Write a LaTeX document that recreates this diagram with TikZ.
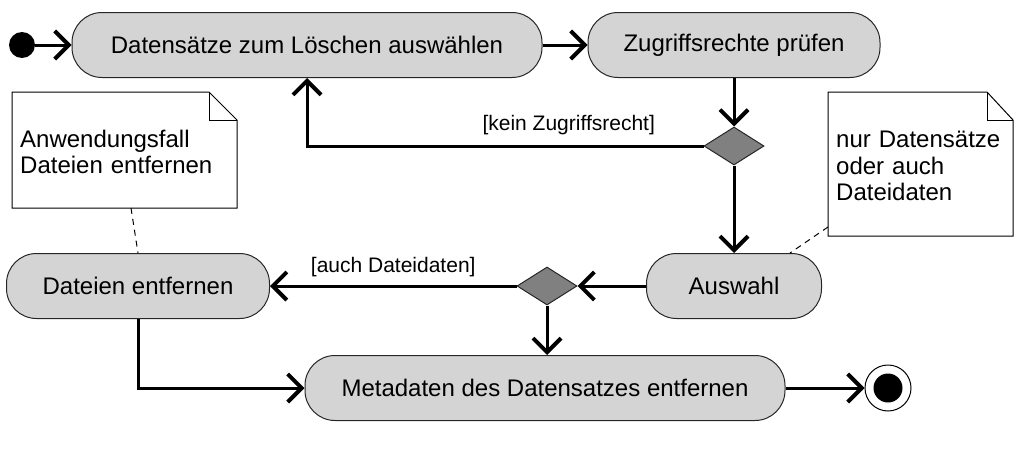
\documentclass[tikz,border=0pt]{standalone}
\usepackage{fontspec}
\setmainfont{Liberation Sans}
\usetikzlibrary{arrows.meta,shapes.geometric}

\begin{document}
\begin{tikzpicture}[x=1pt,y=-1pt,
    action/.style={draw=black!85, line width=1pt, fill=black!17, rounded corners=30pt,
      minimum height=65pt, inner sep=0pt, font=\fontsize{24}{28}\selectfont},
    decision/.style={diamond, draw=black!85, line width=1pt, fill=black!50,
      minimum width=60pt, minimum height=38pt, inner sep=0pt},
    flow/.style={line width=3pt, -{Straight Barb[length=14pt,width=28pt,line width=4pt]}},
    guard/.style={font=\fontsize{21}{25}\selectfont},
    notebox/.style={align=left, inner xsep=8pt, font=\fontsize{24}{26.5}\selectfont},
    noteline/.style={draw=black, line width=1pt, fill=white},
    anchorline/.style={line width=1pt, dash pattern=on 6pt off 5pt}]
  \useasboundingbox (0,0) rectangle (1015,455);

  \node[circle, fill=black, minimum size=26pt, inner sep=0pt] (start) at (22,45) {};
  \node[action, minimum width=470pt] (select) at (307,45) {Datensätze zum Löschen auswählen};
  \node[action, minimum width=292pt] (rights) at (734,45) {Zugriffsrechte prüfen};
  \node[decision] (access) at (734,146) {};
  \node[action, minimum width=175pt] (choice) at (734,286) {Auswahl};
  \node[decision] (kind) at (547,286) {};
  \node[action, minimum width=263pt] (files) at (138,286) {Dateien entfernen};
  \node[action, minimum width=480pt] (meta) at (545,388) {Metadaten des Datensatzes entfernen};
  \node[circle, draw=black, line width=1pt, fill=white, minimum size=46pt, inner sep=0pt] (stop) at (888,388) {};
  \node[circle, fill=black, minimum size=29pt, inner sep=0pt] (stopdot) at (stop) {};

  \path[noteline] (12,92) -- (209,92) -- (237,120) -- (237,208) -- (12,208) -- cycle;
  \draw[line width=1pt] (209,92) -- (209,120) -- (237,120);
  \node[notebox, text width=205pt, anchor=west] (usecase) at (12,152) {Anwendungsfall\\Dateien entfernen};
  \path[noteline] (828,92) -- (987,92) -- (1013,120) -- (1013,236) -- (828,236) -- cycle;
  \draw[line width=1pt] (987,92) -- (987,120) -- (1013,120);
  \node[notebox, text width=170pt, anchor=west] (hint) at (828,166) {nur Datensätze\\oder auch\\Dateidaten};

  \draw[anchorline] (131,208) -- (files.north);
  \draw[anchorline] (828,227) -- ([xshift=56pt]choice.north);

  \draw[flow] (start) -- (select);
  \draw[flow] (select) -- (rights);
  \draw[flow] (rights) -- (access);
  \draw[flow] (access.west) -| (select.south) node[guard, pos=0.17, above=6pt] {[kein Zugriffsrecht]};
  \draw[flow] (access) -- (choice);
  \draw[flow] (choice) -- (kind);
  \draw[flow] (kind) -- (files) node[guard, pos=0.5, above=4pt] {[auch Dateidaten]};
  \draw[flow] (kind.south) -- (kind.south |- meta.north);
  \draw[flow] (files.south) |- (meta.west);
  \draw[flow] (meta) -- (stop);
\end{tikzpicture}
\end{document}
